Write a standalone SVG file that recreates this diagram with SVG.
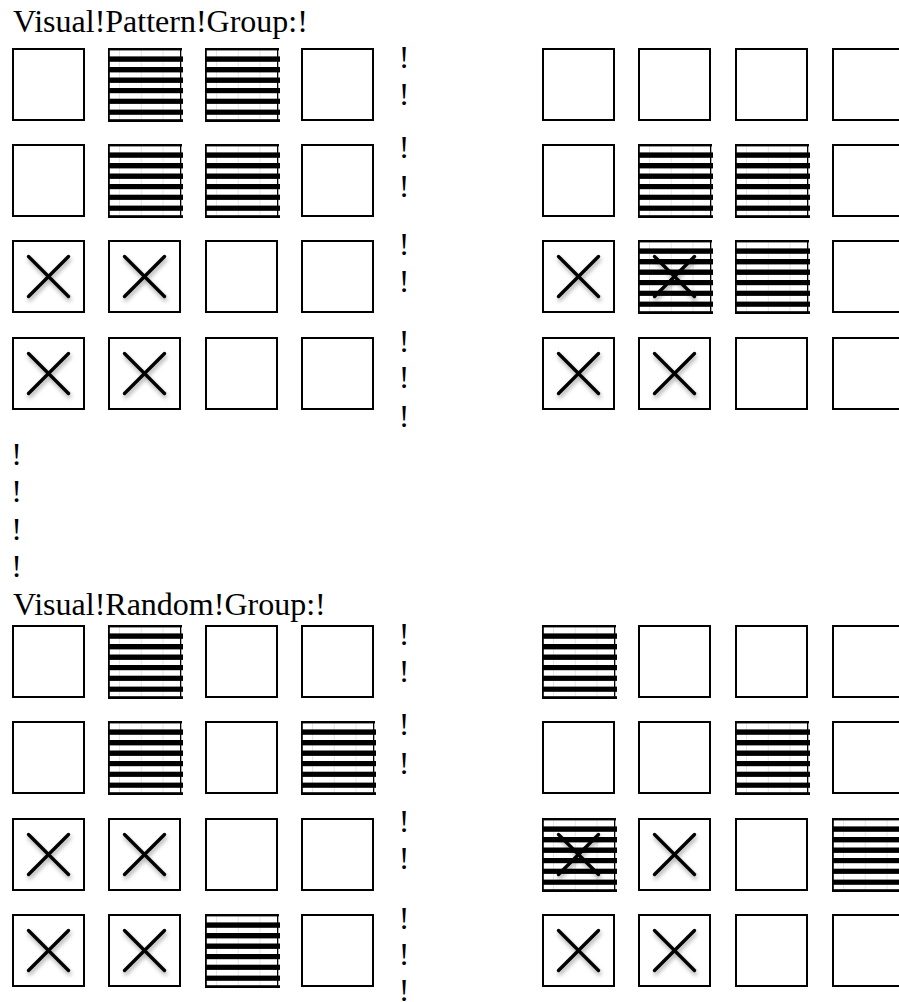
<svg xmlns="http://www.w3.org/2000/svg" xmlns:xlink="http://www.w3.org/1999/xlink" width="899" height="1002" viewBox="0 0 899 1002">
<style>
.t{font-family:"Liberation Serif","Times New Roman",serif;font-size:32px;fill:#000}
.bang{font-family:"Liberation Serif","Times New Roman",serif;font-size:32px;fill:#000;text-anchor:middle}
.box{fill:#fff;stroke:#000;stroke-width:2}
.xl{stroke:#000;stroke-width:3.4;stroke-linecap:round;fill:none}
</style>
<defs>
<filter id="sh" x="-30%" y="-30%" width="160%" height="170%">
<feDropShadow dx="1" dy="3" stdDeviation="2" flood-color="#000" flood-opacity="0.35"/>
</filter>
<g id="plain"><rect class="box" x="1" y="1" width="71" height="71"/></g>
<g id="hatch">
<rect x="0" y="0" width="74" height="74" fill="#fff"/>
<g stroke="#dcdcdc" stroke-width="0.7"><line x1="11.5" y1="0" x2="11.5" y2="74"/><line x1="33.3" y1="0" x2="33.3" y2="74"/><line x1="55" y1="0" x2="55" y2="74"/></g>
<g fill="#000">
<rect x="0" y="0" width="74" height="2.4"/>
<rect x="0" y="8.4" width="75" height="5.4"/>
<rect x="0" y="19" width="75" height="5.4"/>
<rect x="0" y="29.5" width="75" height="5.4"/>
<rect x="0" y="40" width="75" height="5.2"/>
<rect x="0" y="50.7" width="75" height="5.2"/>
<rect x="0" y="61.6" width="75" height="5.2"/>
<rect x="0" y="71.2" width="75" height="2.8"/>
<rect x="0" y="0" width="1.8" height="74"/>
<rect x="72" y="0" width="1.3" height="74"/>
</g>
</g>
<g id="xm" filter="url(#sh)"><line class="xl" x1="16.5" y1="16.5" x2="56.5" y2="56.5"/><line class="xl" x1="56.5" y1="16.5" x2="16.5" y2="56.5"/></g>
</defs>
<rect width="899" height="1002" fill="#fff"/>

<g id="labels">
<text class="t" x="13" y="32">Visual!Pattern!Group:!</text>
<text class="t" x="13" y="615">Visual!Random!Group:!</text>
</g>

<g id="marks-top">
<text class="bang" x="404" y="68">!</text>
<text class="bang" x="404" y="105">!</text>
<text class="bang" x="404" y="158">!</text>
<text class="bang" x="404" y="197">!</text>
<text class="bang" x="404" y="255">!</text>
<text class="bang" x="404" y="292">!</text>
<text class="bang" x="404" y="352">!</text>
<text class="bang" x="404" y="388">!</text>
<text class="bang" x="404" y="427">!</text>
<text class="bang" x="16.5" y="465">!</text>
<text class="bang" x="16.5" y="502">!</text>
<text class="bang" x="16.5" y="540">!</text>
<text class="bang" x="16.5" y="577">!</text>
</g>
<g id="marks-bottom">
<text class="bang" x="404" y="645">!</text>
<text class="bang" x="404" y="682">!</text>
<text class="bang" x="404" y="735">!</text>
<text class="bang" x="404" y="774">!</text>
<text class="bang" x="404" y="832">!</text>
<text class="bang" x="404" y="869">!</text>
<text class="bang" x="404" y="929">!</text>
<text class="bang" x="404" y="965">!</text>
<text class="bang" x="404" y="1001">!</text>
</g>

<!-- Pattern group, left grid -->
<g id="p-left">
<g id="pl-r1c1"><use href="#plain" x="12" y="48"/></g>
<g id="pl-r1c2"><use href="#hatch" x="108" y="48"/></g>
<g id="pl-r1c3"><use href="#hatch" x="205" y="48"/></g>
<g id="pl-r1c4"><use href="#plain" x="301" y="48"/></g>
<g id="pl-r2c1"><use href="#plain" x="12" y="144"/></g>
<g id="pl-r2c2"><use href="#hatch" x="108" y="144"/></g>
<g id="pl-r2c3"><use href="#hatch" x="205" y="144"/></g>
<g id="pl-r2c4"><use href="#plain" x="301" y="144"/></g>
<g id="pl-r3c1"><use href="#plain" x="12" y="240"/><use href="#xm" x="12" y="240"/></g>
<g id="pl-r3c2"><use href="#plain" x="108" y="240"/><use href="#xm" x="108" y="240"/></g>
<g id="pl-r3c3"><use href="#plain" x="205" y="240"/></g>
<g id="pl-r3c4"><use href="#plain" x="301" y="240"/></g>
<g id="pl-r4c1"><use href="#plain" x="12" y="337"/><use href="#xm" x="12" y="337"/></g>
<g id="pl-r4c2"><use href="#plain" x="108" y="337"/><use href="#xm" x="108" y="337"/></g>
<g id="pl-r4c3"><use href="#plain" x="205" y="337"/></g>
<g id="pl-r4c4"><use href="#plain" x="301" y="337"/></g>
</g>

<!-- Pattern group, right grid -->
<g id="p-right">
<g id="pr-r1c1"><use href="#plain" x="542" y="48"/></g>
<g id="pr-r1c2"><use href="#plain" x="638" y="48"/></g>
<g id="pr-r1c3"><use href="#plain" x="735" y="48"/></g>
<g id="pr-r1c4"><use href="#plain" x="832" y="48"/></g>
<g id="pr-r2c1"><use href="#plain" x="542" y="144"/></g>
<g id="pr-r2c2"><use href="#hatch" x="638" y="144"/></g>
<g id="pr-r2c3"><use href="#hatch" x="735" y="144"/></g>
<g id="pr-r2c4"><use href="#plain" x="832" y="144"/></g>
<g id="pr-r3c1"><use href="#plain" x="542" y="240"/><use href="#xm" x="542" y="240"/></g>
<g id="pr-r3c2"><use href="#hatch" x="638" y="240"/><use href="#xm" x="638" y="240"/></g>
<g id="pr-r3c3"><use href="#hatch" x="735" y="240"/></g>
<g id="pr-r3c4"><use href="#plain" x="832" y="240"/></g>
<g id="pr-r4c1"><use href="#plain" x="542" y="337"/><use href="#xm" x="542" y="337"/></g>
<g id="pr-r4c2"><use href="#plain" x="638" y="337"/><use href="#xm" x="638" y="337"/></g>
<g id="pr-r4c3"><use href="#plain" x="735" y="337"/></g>
<g id="pr-r4c4"><use href="#plain" x="832" y="337"/></g>
</g>

<!-- Random group, left grid -->
<g id="r-left">
<g id="rl-r1c1"><use href="#plain" x="12" y="625"/></g>
<g id="rl-r1c2"><use href="#hatch" x="108" y="625"/></g>
<g id="rl-r1c3"><use href="#plain" x="205" y="625"/></g>
<g id="rl-r1c4"><use href="#plain" x="301" y="625"/></g>
<g id="rl-r2c1"><use href="#plain" x="12" y="721"/></g>
<g id="rl-r2c2"><use href="#hatch" x="108" y="721"/></g>
<g id="rl-r2c3"><use href="#plain" x="205" y="721"/></g>
<g id="rl-r2c4"><use href="#hatch" x="301" y="721"/></g>
<g id="rl-r3c1"><use href="#plain" x="12" y="818"/><use href="#xm" x="12" y="818"/></g>
<g id="rl-r3c2"><use href="#plain" x="108" y="818"/><use href="#xm" x="108" y="818"/></g>
<g id="rl-r3c3"><use href="#plain" x="205" y="818"/></g>
<g id="rl-r3c4"><use href="#plain" x="301" y="818"/></g>
<g id="rl-r4c1"><use href="#plain" x="12" y="914"/><use href="#xm" x="12" y="914"/></g>
<g id="rl-r4c2"><use href="#plain" x="108" y="914"/><use href="#xm" x="108" y="914"/></g>
<g id="rl-r4c3"><use href="#hatch" x="205" y="914"/></g>
<g id="rl-r4c4"><use href="#plain" x="301" y="914"/></g>
</g>

<!-- Random group, right grid -->
<g id="r-right">
<g id="rr-r1c1"><use href="#hatch" x="542" y="625"/></g>
<g id="rr-r1c2"><use href="#plain" x="638" y="625"/></g>
<g id="rr-r1c3"><use href="#plain" x="735" y="625"/></g>
<g id="rr-r1c4"><use href="#plain" x="832" y="625"/></g>
<g id="rr-r2c1"><use href="#plain" x="542" y="721"/></g>
<g id="rr-r2c2"><use href="#plain" x="638" y="721"/></g>
<g id="rr-r2c3"><use href="#hatch" x="735" y="721"/></g>
<g id="rr-r2c4"><use href="#plain" x="832" y="721"/></g>
<g id="rr-r3c1"><use href="#hatch" x="542" y="818"/><use href="#xm" x="542" y="818"/></g>
<g id="rr-r3c2"><use href="#plain" x="638" y="818"/><use href="#xm" x="638" y="818"/></g>
<g id="rr-r3c3"><use href="#plain" x="735" y="818"/></g>
<g id="rr-r3c4"><use href="#hatch" x="832" y="818"/></g>
<g id="rr-r4c1"><use href="#plain" x="542" y="914"/><use href="#xm" x="542" y="914"/></g>
<g id="rr-r4c2"><use href="#plain" x="638" y="914"/><use href="#xm" x="638" y="914"/></g>
<g id="rr-r4c3"><use href="#plain" x="735" y="914"/></g>
<g id="rr-r4c4"><use href="#plain" x="832" y="914"/></g>
</g>

<g id="connectors"/>
</svg>
